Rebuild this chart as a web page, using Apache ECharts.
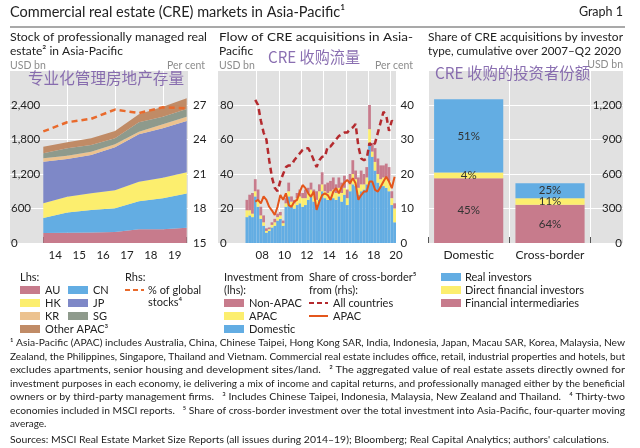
<!DOCTYPE html>
<html><head><meta charset="utf-8">
<script src="https://cdn.jsdelivr.net/npm/echarts@6/dist/echarts.min.js"></script>
<style>html,body{margin:0;padding:0;background:#fff}#c{width:640px;height:448px}</style>
</head><body><div id="c"></div>
<script>
// ---------------- DATA ----------------
// Panel 1: stock of professionally managed real estate (USD bn), stacked
const stockPoints = ['2013', '2014', '2015', '2016', '2017', '2018', '2019'];
const stockYearLabels = ['14', '15', '16', '17', '18', '19'];
const AU = [175, 180, 182, 190, 240, 238, 265];
const CN = [260, 350, 392, 413, 485, 539, 595];
const HK = [255, 275, 290, 313, 341, 359, 369];
const JP = [724, 656, 666, 748, 824, 859, 893];
const KR = [59, 57, 58, 52, 46, 69, 75];
const SG = [87, 129, 116, 105, 163, 133, 133];
const OTHER_APAC = [115, 104, 117, 127, 139, 173, 186];
const GLOBAL_SHARE = [24.7, 25.5, 25.8, 26.6, 26.3, 26.8, 26.7]; // per cent (rhs)

// Panel 2: flow of CRE acquisitions, quarterly 2007Q1-2020Q2 (USD bn)
const quarters = [];
for (let y = 2007; y <= 2020; y++) for (let q = 1; q <= 4; q++) if (!(y === 2020 && q > 2)) quarters.push(y + 'Q' + q);
const DOMESTIC = [15,16,15,27, 21,14,10,6, 7,9,10,13, 14,10,21,27, 21,20,22,23, 21,22,25,27, 24,22,25,30,
  26,25,27,26, 25,27,24,28, 22,30,34,33, 28,30,31,34, 58,50,42,35, 33,33,32,30, 22,12];
const APAC_INV = [4,3,2,3, 4,2,2,1, 1,1.5,2,2, 2,1.5,2,3, 3,3,4,4, 5,4,4,4, 4,3,5,4,
  4,4,3,5, 4,5,5,4, 4,4,6,4, 4,4,3,4, 8,3,5,5, 4,5,6,6, 4,8];
const NON_APAC = [6,9,12,7, 6,5,4,1.5, 1,1.5,2,2, 2,1.5,3,5, 3,2,3,4, 3,5,3,4, 3,5,4,7,
  4,6,6,7, 5,6,6,7, 5,6,8,5, 6,8,6,6, 14,5,8,9, 8,7,8,8, 4,3];
// share of cross-border (per cent, rhs), four-quarter moving average
const SHARE_ALL = [null,null,null,41.5, 40,35.5,32,30, 24,19,16,15, 18,20,22,22.5, 22.5,24,25,26, 27,27.5,27.5,26,
  24,22,24,25, 25,28,28,29, 30,31,31.5,32, 32,33,33.5,34.5, 28,24.5,24,24.5, 29,28,29,32, 35,38,37,32.5, 35.5,34.5];
const SHARE_APAC = [null,null,null,12, 12.5,11.5,13.5,12.5, 10.5,9.4,8.1,10.5, 13.9,12.5,14.4,11, 10.5,12,12.5,14.9,
  16.8,15.9,14.4,13.4, 14.9,9.6,12,13.9, 14.4,13.9,12.5,14.9, 15.9,14.4,16.3,17.5, 18.3,17.3,18.8,17.3,
  12.5,13.9,14.9,14.9, 17.8,17.8,15.4,14.9, 16.3,17.8,19.2,17.8, 15.9,19.2];
const flowYearLabels = ['08', '10', '12', '14', '16', '18', '20'];

// Panel 3: cumulative acquisitions 2007-Q2 2020 by investor type (USD bn)
const investorCats = ['Domestic', 'Cross-border'];
const FIN_INTERMEDIARIES = [562.5, 333];
const DIRECT_FINANCIAL = [50, 57];
const REAL_INVESTORS = [637.5, 130];

// ---------------- STYLE ----------------
const FONT = 'Lato, "Liberation Sans", sans-serif';
const CJK = '"Noto Sans CJK SC", sans-serif';
const C = {
  au: '#c77b8c', cn: '#63ade3', hk: '#fcee6e', jp: '#7e88c7', kr: '#ecc28f', sg: '#8e9a8c', other: '#c08b66',
  orange: '#e96a2c', dark: '#b42a2e', apacLine: '#e4561c', bg: '#e1e1e1', text: '#222', muted: '#8c8c8c', wm: '#7d5fa8'
};
const TOP = 70.5, H = 172.5;

const mctx = document.createElement('canvas').getContext('2d');
function measure(str, size, fam) { mctx.font = size + 'px ' + (fam || FONT); return mctx.measureText(str).width; }
function T(str, x, y, size, opt) {
  opt = opt || {};
  const fam = opt.family || FONT;
  const el = {
    type: 'text', x: x, y: y, z: 50, silent: true,
    style: { text: str, fontSize: size, fontFamily: fam, fill: opt.color || C.text,
      textAlign: opt.align || 'left', align: opt.align || 'left',
      textVerticalAlign: 'middle', verticalAlign: 'middle', opacity: opt.opacity == null ? 1 : opt.opacity }
  };
  if (opt.fit) el.scaleX = opt.fit / measure(str, size, fam);
  return el;
}
function swatch(x, y, color) {
  return { type: 'rect', z: 50, silent: true, shape: { x: x, y: y - 4, width: 20, height: 8 }, style: { fill: color } };
}
function lineSw(x, y, color, dash) {
  return { type: 'line', z: 50, silent: true, shape: { x1: x, y1: y, x2: x + 19, y2: y },
    style: { stroke: color, lineWidth: 2, lineDash: dash || null } };
}

const G = [];
// Header
G.push(T('Commercial real estate (CRE) markets in Asia-Pacific¹', 10, 12, 14.5, { fit: 335 }));
G.push(T('Graph 1', 623, 12, 12.5, { align: 'right' }));
G.push({ type: 'line', z: 50, silent: true, shape: { x1: 10, y1: 27, x2: 625, y2: 27 }, style: { stroke: '#555', lineWidth: 1.2 } });
// Panel titles
G.push(T('Stock of professionally managed real', 10, 37.5, 12, { fit: 197 }));
G.push(T('estate² in Asia-Pacific', 10, 51, 12));
G.push(T('Flow of CRE acquisitions in Asia-', 219, 37.5, 12, { fit: 194 }));
G.push(T('Pacific', 219, 51, 12));
G.push(T('Share of CRE acquisitions by investor', 428, 37.5, 12, { fit: 195 }));
G.push(T('type, cumulative over 2007–Q2 2020', 428, 51, 12, { fit: 193 }));
// Units
G.push(T('USD bn', 10, 66, 10.5, { color: C.muted }));
G.push(T('Per cent', 205, 66, 10.5, { color: C.muted, align: 'right' }));
G.push(T('USD bn', 219, 66, 10.5, { color: C.muted }));
G.push(T('Per cent', 413, 66, 10.5, { color: C.muted, align: 'right' }));
G.push(T('USD bn', 623, 65, 10.5, { color: C.muted, align: 'right' }));
// Chinese watermark captions
G.push(T('专业化管理房地产存量', 28, 78, 15.5, { family: CJK, color: C.wm, fit: 156, opacity: 0.9 }));
G.push(T('CRE 收购流量', 268, 57, 15.5, { family: CJK, color: C.wm, fit: 92, opacity: 0.9 }));
G.push(T('CRE 收购的投资者份额', 435, 73, 15.5, { family: CJK, color: C.wm, fit: 155, opacity: 0.9 }));
// Legends panel 1
G.push(T('Lhs:', 20, 277, 11));
[['AU', C.au, 20, 290], ['CN', C.cn, 68, 290], ['HK', C.hk, 20, 303], ['JP', C.jp, 68, 303],
 ['KR', C.kr, 20, 316], ['SG', C.sg, 68, 316], ['Other APAC³', C.other, 20, 329]].forEach(function (r) {
  G.push(swatch(r[2], r[3], r[1])); G.push(T(r[0], r[2] + 25, r[3], 11));
});
G.push(T('Rhs:', 125, 277, 11));
G.push(lineSw(125, 290, C.orange, [5, 3]));
G.push(T('% of global', 148, 290, 11));
G.push(T('stocks⁴', 148, 302, 11));
// Legends panel 2
G.push(T('Investment from', 224, 277, 11));
G.push(T('(lhs):', 224, 290, 11));
[['Non-APAC', C.au, 303], ['APAC', C.hk, 316], ['Domestic', C.cn, 329]].forEach(function (r) {
  G.push(swatch(224, r[2], r[1])); G.push(T(r[0], 249, r[2], 11));
});
G.push(T('Share of cross-border⁵', 309, 277, 11));
G.push(T('from (rhs):', 309, 290, 11));
G.push(lineSw(309, 303, C.dark, [5, 3])); G.push(T('All countries', 333, 303, 11));
G.push(lineSw(309, 316, C.apacLine)); G.push(T('APAC', 333, 316, 11));
// Legends panel 3
[['Real investors', C.cn, 277], ['Direct financial investors', C.hk, 290], ['Financial intermediaries', C.au, 303]].forEach(function (r) {
  G.push(swatch(441, r[2], r[1])); G.push(T(r[0], 465, r[2], 11));
});
// Footnotes
const notes = [
  ['¹ Asia-Pacific (APAC) includes Australia, China, Chinese Taipei, Hong Kong SAR, India, Indonesia, Japan, Macau SAR, Korea, Malaysia, New', 615],
  ['Zealand, the Philippines, Singapore, Thailand and Vietnam. Commercial real estate includes office, retail, industrial properties and hotels, but', 615],
  ['excludes apartments, senior housing and development sites/land.   ² The aggregated value of real estate assets directly owned for', 615],
  ['investment purposes in each economy, ie delivering a mix of income and capital returns, and professionally managed either by the beneficial', 615],
  ['owners or by third-party management firms.   ³ Includes Chinese Taipei, Indonesia, Malaysia, New Zealand and Thailand.   ⁴ Thirty-two', 615],
  ['economies included in MSCI reports.   ⁵ Share of cross-border investment over the total investment into Asia-Pacific, four-quarter moving', 615],
  ['average.', null]
];
notes.forEach(function (n, i) { G.push(T(n[0], 10, 343 + 13.5 * i, 10, n[1] ? { fit: n[1] } : {})); });
G.push(T("Sources: MSCI Real Estate Market Size Reports (all issues during 2014–19); Bloomberg; Real Capital Analytics; authors' calculations.", 10, 439.5, 10, { fit: 599 }));

// ---------------- AXES ----------------
const lblShift = [0, 0, 9, 0];
const axLbl = { color: C.text, fontSize: 11.5, fontFamily: FONT };
function hiddenY(grid, min, max) { return { type: 'value', gridIndex: grid, min: min, max: max, show: false }; }
function hiddenX(grid) { return { type: 'category', gridIndex: grid, show: false, data: ['a'], position: 'bottom' }; }

const grid = [
  { left: 10, top: TOP, width: 178, height: H, show: true, backgroundColor: C.bg, borderWidth: 0, z: 0 },
  { left: 43.3, top: TOP, width: 143.4, height: H },
  { left: 218, top: TOP, width: 178.5, height: H, show: true, backgroundColor: C.bg, borderWidth: 0, z: 0 },
  { left: 245.5, top: TOP, width: 150.5, height: H },
  { left: 428, top: TOP, width: 195, height: H, show: true, backgroundColor: C.bg, borderWidth: 0, z: 0 },
  { left: 428, top: TOP, width: 162.7, height: H }
];

const whiteSplit = { show: true, lineStyle: { color: '#fff', width: 1 } };
const yAxis = [
  // 0: panel1 lhs labels + gridlines
  { type: 'value', gridIndex: 0, position: 'left', min: 0, max: 3000, interval: 600, z: 1,
    axisLine: { show: false }, axisTick: { show: false }, splitLine: whiteSplit,
    axisLabel: Object.assign({ inside: true, margin: 1, showMaxLabel: false, padding: lblShift,
      formatter: function (v) { return v.toLocaleString('en-US'); } }, axLbl) },
  // 1: panel1 rhs labels
  { type: 'value', gridIndex: 0, position: 'right', min: 15, max: 30, interval: 3, z: 1,
    axisLine: { show: false }, axisTick: { show: false }, splitLine: { show: false },
    axisLabel: Object.assign({ margin: 5, showMaxLabel: false, padding: lblShift }, axLbl) },
  hiddenY(1, 0, 3000),   // 2
  hiddenY(1, 15, 30),    // 3
  // 4: panel2 lhs
  { type: 'value', gridIndex: 2, position: 'left', min: 0, max: 100, interval: 20, z: 1,
    axisLine: { show: false }, axisTick: { show: false }, splitLine: whiteSplit,
    axisLabel: Object.assign({ inside: true, margin: 2, showMaxLabel: false, padding: lblShift }, axLbl) },
  // 5: panel2 rhs
  { type: 'value', gridIndex: 2, position: 'right', min: 0, max: 50, interval: 10, z: 1,
    axisLine: { show: false }, axisTick: { show: false }, splitLine: { show: false },
    axisLabel: Object.assign({ margin: 4, showMaxLabel: false, padding: lblShift }, axLbl) },
  hiddenY(3, 0, 100),    // 6
  hiddenY(3, 0, 50),     // 7
  // 8: panel3 rhs labels + gridlines
  { type: 'value', gridIndex: 4, position: 'right', min: 0, max: 1500, interval: 300, z: 1,
    axisLine: { show: false }, axisTick: { show: false }, splitLine: whiteSplit,
    axisLabel: Object.assign({ inside: true, margin: 1, showMaxLabel: false, padding: lblShift,
      formatter: function (v) { return v.toLocaleString('en-US'); } }, axLbl) },
  hiddenY(5, 0, 1500)    // 9
];

const xAxis = [
  hiddenX(0), // 0
  // 1: panel1 data points, ticks + vertical gridlines
  { type: 'category', gridIndex: 1, position: 'bottom', data: stockPoints, boundaryGap: false, z: 1,
    axisLine: { show: false }, axisLabel: { show: false },
    axisTick: { show: true, inside: true, length: 6, interval: 0, lineStyle: { color: '#555' } },
    splitLine: { show: true, interval: function (i) { return i % 2 === 1; }, lineStyle: { color: '#fff', width: 1 } } },
  // 2: panel1 year labels
  { type: 'category', gridIndex: 1, position: 'bottom', data: stockYearLabels, boundaryGap: true, z: 1,
    axisLine: { show: false }, axisTick: { show: false }, splitLine: { show: false },
    axisLabel: Object.assign({ interval: 0, margin: 6 }, axLbl) },
  hiddenX(2), // 3
  // 4: panel2 quarters
  { type: 'category', gridIndex: 3, position: 'bottom', data: quarters, boundaryGap: true, z: 1,
    axisLine: { show: false }, axisLabel: { show: false }, axisTick: { show: false },
    splitLine: { show: true, interval: function (i) { return i % 8 === 4; }, lineStyle: { color: '#fff', width: 1 } } },
  // 5: panel2 year labels (centred on each labelled year)
  { type: 'value', gridIndex: 3, position: 'bottom', min: 2007, max: 2020.5, interval: 0.5, z: 1,
    axisLine: { show: false }, axisTick: { show: false }, splitLine: { show: false },
    axisLabel: Object.assign({ margin: 6, showMaxLabel: true, showMinLabel: true,
      formatter: function (v) {
        const y = Math.floor(v + 1e-6);
        if (Math.abs(v - y - 0.5) < 1e-6) {
          const s = String(y % 100).padStart(2, '0');
          return flowYearLabels.indexOf(s) >= 0 ? s : '';
        }
        return '';
      } }, axLbl) },
  hiddenX(4), // 6
  // 7: panel3 categories
  { type: 'category', gridIndex: 5, position: 'bottom', data: investorCats, boundaryGap: true, z: 1,
    axisLine: { show: false },
    axisTick: { show: true, inside: true, length: 6, interval: 0, lineStyle: { color: '#555' } },
    splitLine: { show: true, interval: 0, lineStyle: { color: '#fff', width: 1 } },
    axisLabel: { interval: 0, margin: 6, fontSize: 12, color: C.text, fontFamily: FONT } }
];

// ---------------- SERIES ----------------
function area(name, data, color) {
  return { name: name, type: 'line', xAxisIndex: 1, yAxisIndex: 2, stack: 'stock', data: data,
    symbol: 'none', lineStyle: { width: 0 }, areaStyle: { color: color, opacity: 1 }, itemStyle: { color: color } };
}
function flowBar(name, data, color) {
  return { name: name, type: 'bar', xAxisIndex: 4, yAxisIndex: 6, stack: 'flow', data: data,
    barCategoryGap: '0%', itemStyle: { color: color } };
}
const totals = investorCats.map(function (_, i) { return FIN_INTERMEDIARIES[i] + DIRECT_FINANCIAL[i] + REAL_INVESTORS[i]; });
function shareBar(name, data, color) {
  return { name: name, type: 'bar', xAxisIndex: 7, yAxisIndex: 9, stack: 'share', data: data, barWidth: '85%',
    itemStyle: { color: color },
    label: { show: true, position: 'inside', color: '#333', fontSize: 11.5, fontFamily: FONT,
      formatter: function (p) { return Math.round(p.value / totals[p.dataIndex] * 100) + '%'; } } };
}

const series = [
  area('AU', AU, C.au), area('CN', CN, C.cn), area('HK', HK, C.hk), area('JP', JP, C.jp),
  area('KR', KR, C.kr), area('SG', SG, C.sg), area('Other APAC', OTHER_APAC, C.other),
  { name: '% of global stocks', type: 'line', xAxisIndex: 1, yAxisIndex: 3, data: GLOBAL_SHARE, symbol: 'none', z: 5,
    lineStyle: { color: C.orange, width: 2.5, type: [6, 4] } },
  flowBar('Domestic', DOMESTIC, C.cn), flowBar('APAC', APAC_INV, C.hk), flowBar('Non-APAC', NON_APAC, C.au),
  { name: 'All countries', type: 'line', xAxisIndex: 4, yAxisIndex: 7, data: SHARE_ALL, symbol: 'none', z: 5,
    lineStyle: { color: C.dark, width: 2.5, type: [6, 4] } },
  { name: 'APAC share', type: 'line', xAxisIndex: 4, yAxisIndex: 7, data: SHARE_APAC, symbol: 'none', z: 6,
    lineStyle: { color: C.apacLine, width: 2 } },
  shareBar('Financial intermediaries', FIN_INTERMEDIARIES, C.au),
  shareBar('Direct financial investors', DIRECT_FINANCIAL, C.hk),
  shareBar('Real investors', REAL_INVESTORS, C.cn)
];

const chart = echarts.init(document.getElementById('c'), null, { renderer: 'canvas' });
chart.setOption({
  animation: false,
  backgroundColor: '#fff',
  textStyle: { fontFamily: FONT },
  grid: grid, xAxis: xAxis, yAxis: yAxis, series: series,
  graphic: { elements: G }
});
</script>
</body></html>
